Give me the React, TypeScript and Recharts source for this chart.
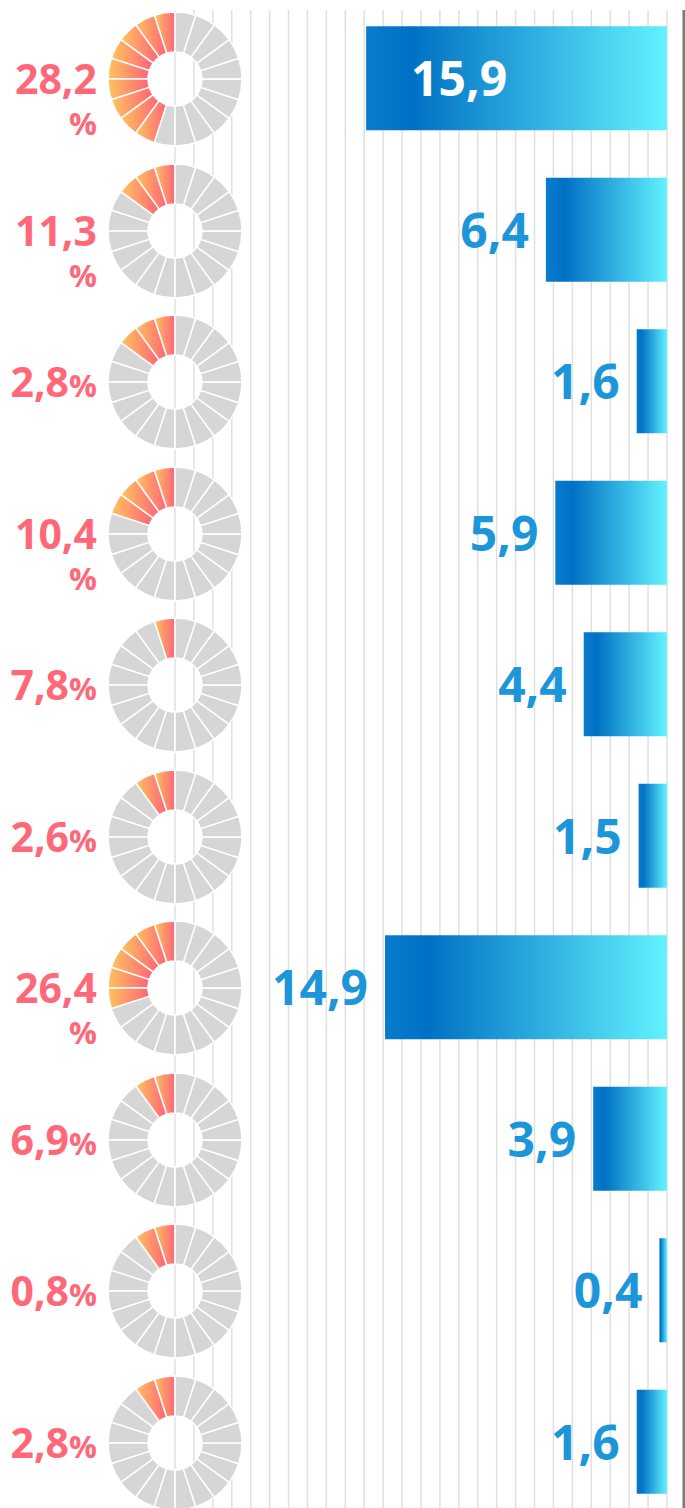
import React from "react";
import { BarChart, Bar, XAxis, YAxis, CartesianGrid, LabelList, PieChart, Pie, Cell } from "recharts";

// rows top to bottom
const categories = ["r1", "r2", "r3", "r4", "r5", "r6", "r7", "r8", "r9", "r10"];
const barValues = [15.9, 6.4, 1.6, 5.9, 4.4, 1.5, 14.9, 3.9, 0.4, 1.6];
const shares = [28.2, 11.3, 2.8, 10.4, 7.8, 2.6, 26.4, 6.9, 0.8, 2.8];
// coloured ring segments (out of 20)
const filledSegments = [9, 3, 3, 4, 1, 2, 6, 2, 2, 2];
const ringSegments = [1, 1, 1, 1, 1, 1, 1, 1, 1, 1, 1, 1, 1, 1, 1, 1, 1, 1, 1, 1];
const gridTicks = [0, 1, 2, 3, 4, 5, 6, 7, 8, 9, 10, 11, 12, 13, 14, 15, 16, 17, 18, 19, 20, 21, 22, 23, 24, 25, 26];

const W = 685;
const H = 1508;
const CHART_H = 1520;
const BAND_TOP = 2.25;
const BAND = 151.5;
const FONT = "'Open Sans', 'Noto Sans', sans-serif";
const RED = "#ff6878";
const BLUE = "#1c96d8";

const fmt = (v: number) => v.toFixed(1).replace(".", ",");

const data = categories.map((name, i) => ({ name, value: barValues[i] }));
const maxValue = Math.max(...barValues);

function BarValueLabel(props: any) {
  const { x, y, width, height, value } = props;
  const left = Math.min(x, x + width);
  const cy = y + height / 2 + 18;
  if (value === maxValue) {
    return (
      <text x={left + 45} y={cy} fill="#fff" fontSize={48} fontWeight={700} fontFamily={FONT}>
        {fmt(value)}
      </text>
    );
  }
  return (
    <text x={left - 17} y={cy} fill={BLUE} fontSize={48} fontWeight={700} fontFamily={FONT} textAnchor="end">
      {fmt(value)}
    </text>
  );
}

function Donut({ index }: { index: number }) {
  const share = shares[index];
  const filled = filledSegments[index];
  const ring = ringSegments.map((v, i) => ({ name: `s${i}`, value: v }));
  const renderShare = (p: any) => {
    if (p.index !== 0) return null;
    const x = p.cx - 78;
    if (share >= 10) {
      return (
        <g key="share">
          <text x={x} y={p.cy + 15} textAnchor="end" fill={RED} fontSize={41} fontWeight={700} fontFamily={FONT}>
            {fmt(share)}
          </text>
          <text x={x} y={p.cy + 56} textAnchor="end" fill={RED} fontSize={31} fontWeight={700} fontFamily={FONT}>
            %
          </text>
        </g>
      );
    }
    return (
      <text key="share" x={x} y={p.cy + 15} textAnchor="end" fill={RED} fontWeight={700} fontFamily={FONT}>
        <tspan fontSize={41}>{fmt(share)}</tspan>
        <tspan fontSize={31}>%</tspan>
      </text>
    );
  };
  return (
    <div style={{ position: "absolute", left: 0, top: BAND_TOP + BAND * index }}>
      <PieChart width={250} height={BAND} margin={{ top: 0, right: 0, bottom: 0, left: 0 }}>
        <defs>
          <linearGradient id={`seg${index}`} x1="0" y1="0" x2="1" y2="0">
            <stop offset="0%" stopColor="#ffc35e" />
            <stop offset="100%" stopColor="#ff6478" />
          </linearGradient>
        </defs>
        <Pie
          data={ring}
          dataKey="value"
          cx={175}
          cy={77}
          innerRadius={27}
          outerRadius={67}
          startAngle={90}
          endAngle={450}
          stroke="#fff"
          strokeWidth={1.5}
          label={renderShare}
          labelLine={false}
          isAnimationActive={false}
        >
          {ring.map((_, i) => (
            <Cell key={i} fill={i < filled ? `url(#seg${index})` : "#d6d6d6"} />
          ))}
        </Pie>
      </PieChart>
    </div>
  );
}

export default function App() {
  return (
    <div style={{ position: "absolute", left: 0, top: 0, width: W, height: H, overflow: "hidden", background: "#fff" }}>
      <BarChart
        width={W}
        height={CHART_H}
        data={data}
        layout="vertical"
        margin={{ top: 10, right: 0, bottom: 0, left: 175 }}
      >
        <defs>
          <linearGradient id="barFill" x1="0" y1="0" x2="1" y2="0">
            <stop offset="0%" stopColor="#0a7ccc" />
            <stop offset="15%" stopColor="#0070c4" />
            <stop offset="100%" stopColor="#62f2ff" />
          </linearGradient>
        </defs>
        <CartesianGrid horizontal={false} stroke="#e0e0e0" strokeWidth={1.5} />
        <XAxis type="number" hide reversed domain={[-0.9, 26]} ticks={gridTicks} interval={0} allowDataOverflow />
        <YAxis
          type="category"
          dataKey="name"
          orientation="right"
          width={1}
          tick={false}
          tickLine={false}
          axisLine={{ stroke: "#7a7a7a", strokeWidth: 3 }}
          padding={{ top: -7.75, bottom: 2.75 }}
        />
        <Bar dataKey="value" barSize={104} fill="url(#barFill)" isAnimationActive={false}>
          <LabelList dataKey="value" content={BarValueLabel} />
        </Bar>
      </BarChart>
      {categories.map((c, i) => (
        <Donut key={c} index={i} />
      ))}
    </div>
  );
}
